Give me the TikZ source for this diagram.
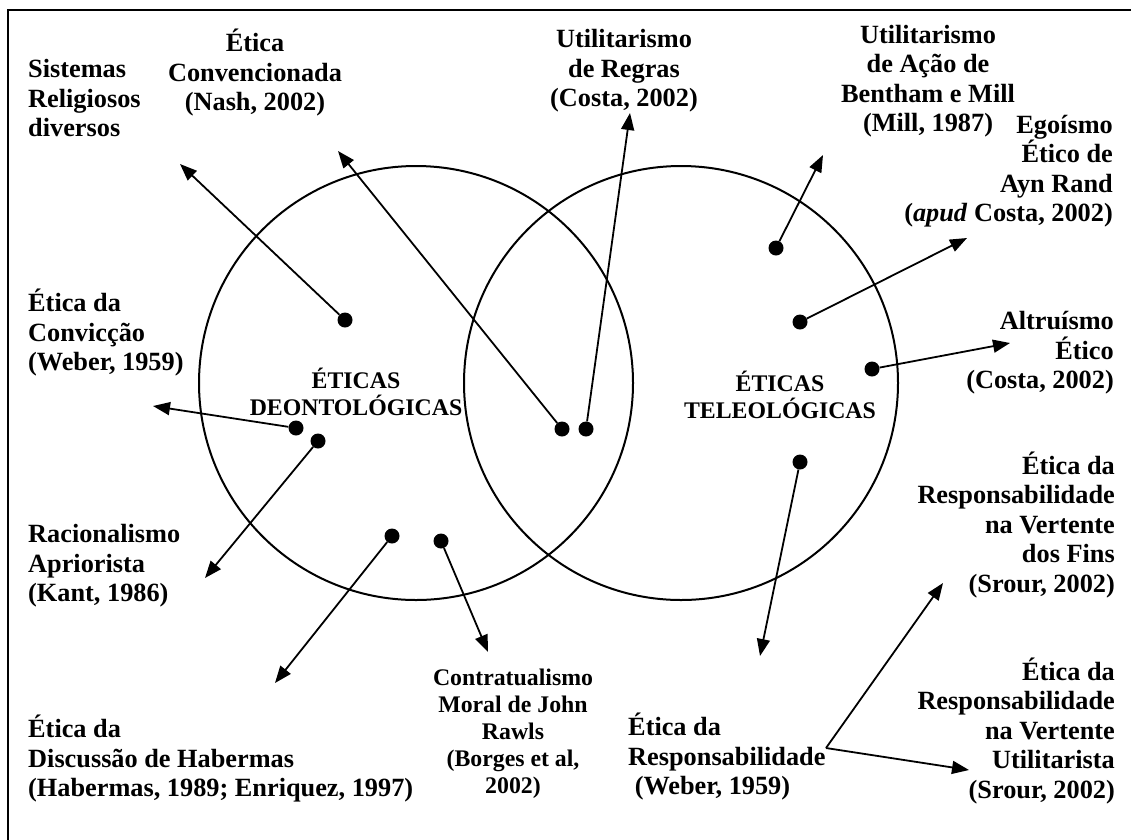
\documentclass[tikz,border=0pt]{standalone}
\usepackage{fontspec}
\setmainfont{Liberation Serif}
\usetikzlibrary{arrows.meta}

\begin{document}
\begin{tikzpicture}[x=1pt,y=-1pt]
  \tikzset{dot/.style={circle,fill,inner sep=0pt,minimum size=15pt},
    arr/.style={line width=1.8pt,-{Triangle[length=17pt,width=13pt]}},
    lbl/.style={font=\bfseries\fontsize{26.3}{29.5}\selectfont,inner sep=0pt},
    sml/.style={font=\bfseries\fontsize{23.8}{27}\selectfont,inner sep=0pt,align=center}}
  \useasboundingbox (0,0) rectangle (1131,839);
  \draw[line width=2.5pt] (8,850) -- (8,10) -- (1140,10);
  \draw[line width=2pt] (416,383) circle[radius=217pt] (681,383) circle[radius=217pt];
  % labels
  \node[lbl,anchor=west,align=left] (sist) at (28,98) {Sistemas\\Religiosos\\diversos};
  \node[lbl,align=center] (conv) at (255,73) {Ética\\Convencionada\\(Nash, 2002)};
  \node[lbl,align=center] (regr) at (624,71) {Utilitarismo\\de Regras\\(Costa, 2002)};
  \node[lbl,align=center] (acao) at (928,81) {Utilitarismo\\de Ação de\\Bentham e Mill\\(Mill, 1987)};
  \node[lbl,anchor=east,align=right] (egoi) at (1113,171) {Egoísmo\\Ético de\\Ayn Rand\\(\textit{apud} Costa, 2002)};
  \node[lbl,anchor=west,align=left] (cvic) at (28,333) {Ética da\\Convicção\\(Weber, 1959)};
  \node[sml] (deon) at (356,392) {ÉTICAS\\DEONTOLÓGICAS};
  \node[sml] (tele) at (780,395) {ÉTICAS\\TELEOLÓGICAS};
  \node[lbl,anchor=east,align=right] (altr) at (1114,353) {Altruísmo\\Ético\\(Costa, 2002)};
  \node[lbl,anchor=west,align=left] (raci) at (28,566) {Racionalismo\\Apriorista\\(Kant, 1986)};
  \node[lbl,anchor=east,align=right] (fins) at (1115,525) {Ética da\\Responsabilidade\\na Vertente\\dos Fins\\(Srour, 2002)};
  \node[lbl,anchor=west,align=left] (habe) at (28,759) {Ética da\\Discussão de Habermas\\(Habermas, 1989; Enriquez, 1997)};
  \node[sml] (rawl) at (513,734) {Contratualismo\\Moral de John\\Rawls\\(Borges et al,\\2002)};
  \node[lbl,anchor=west,align=left] (webe) at (628,757) {Ética da\\Responsabilidade\\\hspace{0.25em}(Weber, 1959)};
  \node[lbl,anchor=east,align=right] (util) at (1115,731) {Ética da\\Responsabilidade\\na Vertente\\Utilitarista\\(Srour, 2002)};
  % dots and arrows
  \foreach \a/\b/\c/\d [count=\i] in {345/320/180/164, 562/429/338/151, 586/429/630/113,
      776/248/823/155, 800/322/967/238, 872/369/1010/343, 296/428/153/406,
      318/441/205/578, 392/536/275/683, 441/541/488/652, 800/462/760/656}{
    \node[dot] (d\i) at (\a,\b) {};
    \coordinate (t\i) at (\c,\d);
    \draw[arr] (d\i) -- (t\i);
  }
  \coordinate (fork) at (826,748);
  \coordinate (tfin) at (943,583);
  \coordinate (tuti) at (969,770);
  \draw[arr] (fork) -- (tfin);
  \draw[arr] (fork) -- (tuti);
\end{tikzpicture}
\end{document}
